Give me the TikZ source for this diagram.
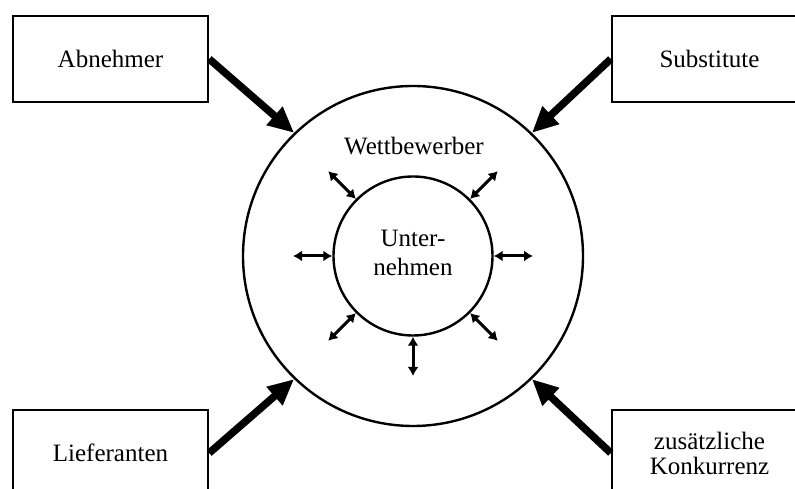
\documentclass[tikz,border=0pt]{standalone}
\usepackage{fontspec}
\setmainfont{Liberation Serif}
\usetikzlibrary{arrows.meta,calc}
\begin{document}
\begin{tikzpicture}[x=1pt,y=1pt,
  box/.style={draw,line width=2.4pt,rectangle,inner sep=0pt,minimum width=195pt,minimum height=86pt,align=center,font=\fontsize{25}{29}\selectfont},
  ring/.style={draw,line width=2.4pt,circle,inner sep=0pt},
  bigarrow/.style={line width=7.5pt,-{Triangle[length=26pt,width=23pt]}},
  smallarrow/.style={line width=3pt,{Latex[length=9pt,width=11pt]}-{Latex[length=9pt,width=11pt]}},
  lbl/.style={font=\fontsize{25}{29}\selectfont,align=center,inner sep=0pt}]
\clip (0,0) rectangle (795,489);
\useasboundingbox (0,0) rectangle (795,489);
\node[ring,minimum size=340pt] (outer) at (413,233) {};
\node[ring,minimum size=159pt] (inner) at (413,233) {};
\node[lbl] (unt) at (413,236) {Unter-\\nehmen};
\node[lbl,anchor=base] (wett) at (414,334) {Wettbewerber};
\node[box] (abn) at (110.5,430) {Abnehmer};
\node[box] (sub) at (709.5,430) {Substitute};
\node[box] (lie) at (110.5,36) {Lieferanten};
\node[box,font=\fontsize{25}{25}\selectfont] (kon) at (709.5,36) {zusätzliche\\Konkurrenz};
\draw[bigarrow] (abn.east) -- (outer.134);
\draw[bigarrow] (sub.west) -- (outer.46);
\draw[bigarrow] (lie.east) -- (outer.226);
\draw[bigarrow] (kon.west) -- (outer.314);
\foreach \a in {0,45,135,180,225,270,315}{
  \coordinate (s\a) at ($(inner.center)+(\a:120pt)$);
  \draw[smallarrow] (inner.\a) -- (s\a);
}
\end{tikzpicture}
\end{document}
